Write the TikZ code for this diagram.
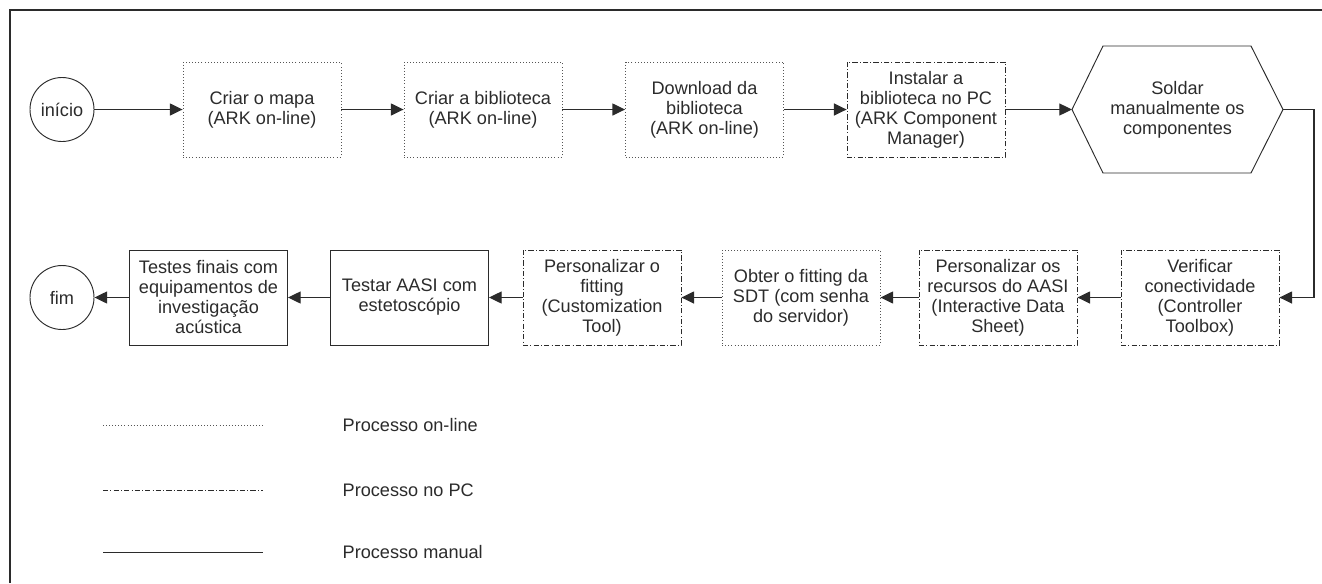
\documentclass[tikz,border=0pt]{standalone}
\usepackage{fontspec}
\setmainfont{Liberation Sans}
\usetikzlibrary{arrows.meta}
\definecolor{ink}{HTML}{2B2B2B}
\definecolor{soft}{HTML}{555555}
\begin{document}
\begin{tikzpicture}[x=0.75pt,y=-0.75pt,
  every node/.style={font=\fontsize{13.6}{15}\selectfont, text=ink},
  base/.style={draw=ink, line width=0.7pt, align=center, inner sep=0pt,
    minimum width=118.5pt, minimum height=71.25pt, rectangle},
  online/.style={base, draw=soft, line width=0.65pt, dash pattern=on 0.65pt off 1.7pt},
  pcstep/.style={base, line width=0.6pt, dash pattern=on 4pt off 1.6pt on 0.7pt off 1.6pt},
  manual/.style={base},
  term/.style={draw=ink, line width=0.7pt, circle, minimum size=48pt, inner sep=0pt},
  flow/.style={draw=ink, line width=0.9pt, -{Triangle[length=9.5pt,width=9pt]}},
  legend/.style={anchor=west}
]
\useasboundingbox (0,0) rectangle (1322,583);

% frame
\draw[ink, line width=1pt] (10,583) -- (10,10) -- (1322,10);

% first row
\node[term]   (ini)  at (62,109.5)  {início};
\node[online] (mapa) at (262,109.5) {Criar o mapa\\(ARK on-line)};
\node[online] (bib)  at (483,109.5) {Criar a biblioteca\\(ARK on-line)};
\node[online] (down) at (704.5,109.5) {Download da\\biblioteca\\(ARK on-line)};
\node[pcstep] (inst) at (926,109.5) {Instalar a\\biblioteca no PC\\(ARK Component\\Manager)};

% soldering step (hexagon)
\coordinate (hexW) at (1072,109.5);
\coordinate (hexE) at (1283,109.5);
\draw[ink, line width=0.7pt] (hexW) -- (1103,46) -- (1251,46) -- (hexE) -- (1251,173) -- (1103,173) -- cycle;
\node[align=center] (sold) at (1177.5,109.5) {Soldar\\manualmente os\\componentes};

% second row
\node[pcstep] (verif) at (1200,297.5) {Verificar\\conectividade\\(Controller\\Toolbox)};
\node[pcstep] (rec)   at (998,297.5)  {Personalizar os\\recursos do AASI\\(Interactive Data\\Sheet)};
\node[online] (sdt)   at (801,297.5)  {Obter o fitting da\\SDT (com senha\\do servidor)};
\node[pcstep] (fit)   at (602,297.5)  {Personalizar o\\fitting\\(Customization\\Tool)};
\node[manual] (est)   at (409.5,297.5) {Testar AASI com\\estetoscópio};
\node[manual] (test)  at (208.5,297.5) {Testes finais com\\equipamentos de\\investigação\\acústica};
\node[term]   (fim)   at (62,297.5)   {fim};

% connectors
\draw[flow] (ini) -- (mapa);
\draw[flow] (mapa) -- (bib);
\draw[flow] (bib) -- (down);
\draw[flow] (down) -- (inst);
\draw[flow] (inst) -- (hexW);
\coordinate (turn) at (1314,109.5);
\draw[flow] (hexE) -- (turn) |- (verif.east);
\draw[flow] (verif) -- (rec);
\draw[flow] (rec) -- (sdt);
\draw[flow] (sdt) -- (fit);
\draw[flow] (fit) -- (est);
\draw[flow] (est) -- (test);
\draw[flow] (test) -- (fim);

% legend
\draw[soft, line width=0.6pt, dash pattern=on 0.6pt off 1.7pt] (103,425) -- (263,425);
\node[legend] (lon) at (338,425) {Processo on-line};
\draw[ink, line width=0.6pt, dash pattern=on 4pt off 1.6pt on 0.7pt off 1.6pt] (103,490) -- (263,490);
\node[legend] (lpc) at (338,490) {Processo no PC};
\draw[ink, line width=0.7pt] (103,552) -- (263,552);
\node[legend] (lman) at (338,552) {Processo manual};
\end{tikzpicture}
\end{document}
